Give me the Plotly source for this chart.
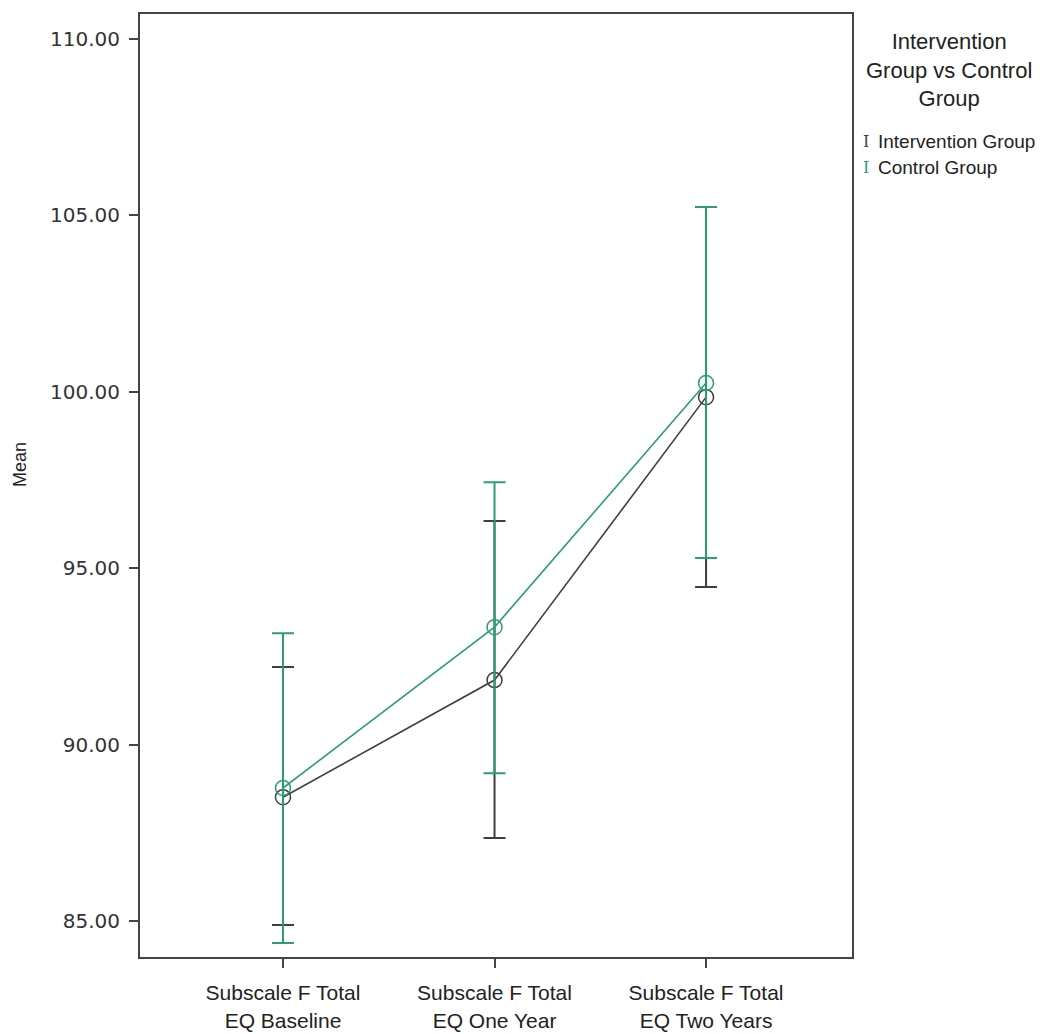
import plotly.graph_objects as go

categories = ["Subscale F Total<br>EQ Baseline", "Subscale F Total<br>EQ One Year", "Subscale F Total<br>EQ Two Years"]
x_pos = [0, 1, 2]

intervention_mean = [88.51, 91.83, 99.85]
intervention_upper = [92.20, 96.34, 105.24]
intervention_lower = [84.89, 87.35, 94.47]

control_mean = [88.77, 93.33, 100.25]
control_upper = [93.16, 97.44, 105.24]
control_lower = [84.38, 89.19, 95.29]

y_ticks = [85, 90, 95, 100, 105, 110]

GRAY = "#3f3f3f"
GREEN = "#2a9d78"
FONT = "Liberation Sans, Arial"


def err(mean, up, lo):
    return ([u - m for u, m in zip(up, mean)], [m - l for m, l in zip(mean, lo)])


fig = go.Figure()
for name, mean, up, lo, col in [
    ("Intervention Group", intervention_mean, intervention_upper, intervention_lower, GRAY),
    ("Control Group", control_mean, control_upper, control_lower, GREEN),
]:
    plus, minus = err(mean, up, lo)
    fig.add_trace(go.Scatter(
        x=x_pos, y=mean, name=name, mode="lines+markers",
        line=dict(color=col, width=1.6),
        marker=dict(symbol="circle-open", size=15, color=col, line=dict(width=1.5, color=col)),
        error_y=dict(type="data", symmetric=False, array=plus, arrayminus=minus,
                     color=col, thickness=2, width=11),
        showlegend=False,
    ))

fig.update_layout(
    width=1043, height=1034,
    margin=dict(l=140, r=191, t=14, b=77, autoexpand=False),
    paper_bgcolor="white", plot_bgcolor="white",
    xaxis=dict(range=[-0.676, 2.69], tickvals=x_pos, ticktext=categories,
               showgrid=False, zeroline=False, showline=True, mirror=True,
               linecolor="#444444", linewidth=2, ticks="outside", ticklen=9,
               tickcolor="#444444", tickwidth=2, ticklabelstandoff=7, automargin=False,
               tickfont=dict(family=FONT, size=21, color="#222222")),
    yaxis=dict(range=[83.98, 110.71], tickvals=y_ticks, tickformat=".2f",
               showgrid=False, zeroline=False, showline=True, mirror=True,
               linecolor="#444444", linewidth=2, ticks="outside", ticklen=9,
               tickcolor="#444444", tickwidth=2, ticklabelstandoff=5, automargin=False,
               tickfont=dict(family="DejaVu Sans", size=20, color="#333333")),
    font=dict(family=FONT),
)

fig.add_annotation(text="Mean", xref="paper", yref="paper", x=-0.1685, y=0.5217,
                   textangle=-90, showarrow=False, xanchor="center", yanchor="middle",
                   font=dict(family="Liberation Sans", size=18, color="#222222"))

# legend
fig.add_annotation(text="Intervention<br>Group vs Control<br>Group", xref="paper", yref="paper",
                   x=(949 - 140) / 712, y=(957 - 70) / 943, showarrow=False,
                   xanchor="center", yanchor="middle", align="center",
                   font=dict(family=FONT, size=22, color="#222222"))
for i, (name, col) in enumerate([("Intervention Group", GRAY), ("Control Group", GREEN)]):
    yy = 141 + 27 * i
    fig.add_annotation(text="I", xref="paper", yref="paper",
                       x=(866 - 140) / 712, y=(957 - yy) / 943, showarrow=False,
                       xanchor="center", yanchor="middle",
                       font=dict(family="DejaVu Serif", size=16, color=col))
    fig.add_annotation(text=name, xref="paper", yref="paper",
                       x=(876 - 140) / 712, y=(957 - yy) / 943, showarrow=False,
                       xanchor="left", yanchor="middle",
                       font=dict(family=FONT, size=19, color="#222222"))

fig.write_html("out.html")
